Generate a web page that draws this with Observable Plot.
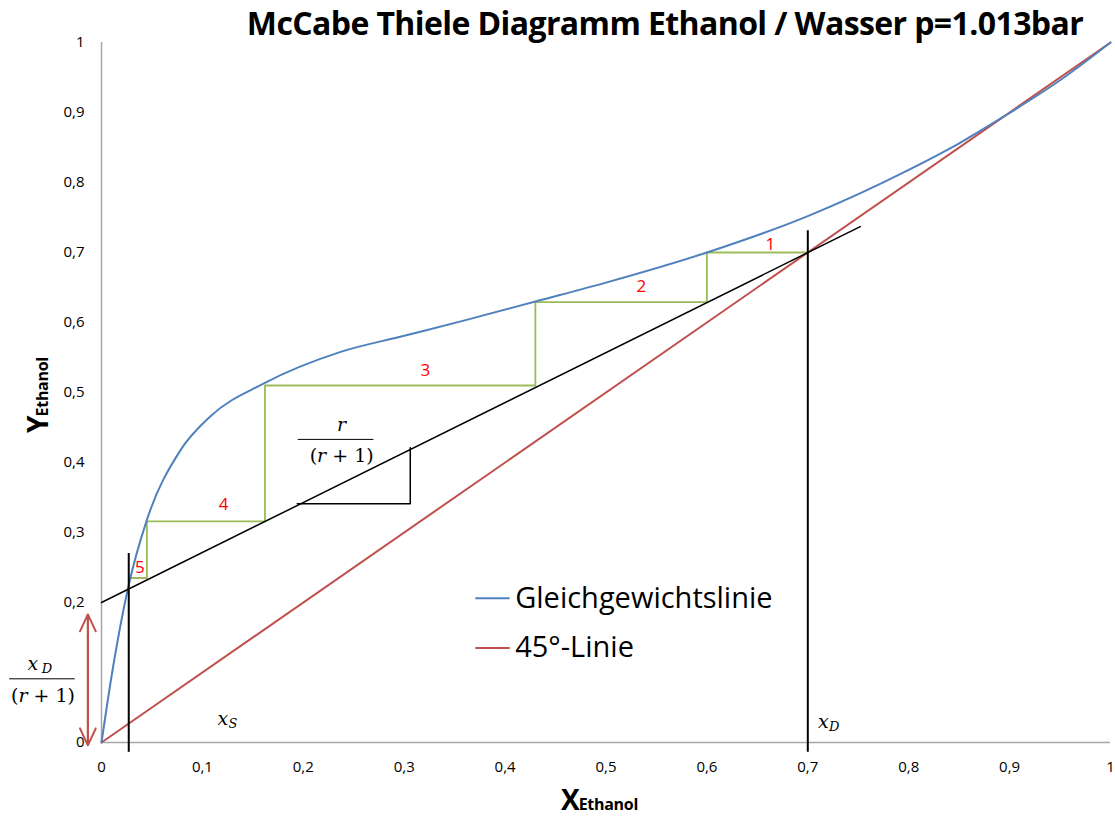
<!DOCTYPE html>
<html><head><meta charset="utf-8">
<script src="https://cdn.jsdelivr.net/npm/d3@7"></script>
<script src="https://cdn.jsdelivr.net/npm/@observablehq/plot@0.6"></script>
<style>
body{margin:0;background:#fff;font-family:"Open Sans",sans-serif;}
#wrap{position:relative;width:1115px;height:817px;}
#title{position:absolute;left:0;width:1330px;top:1px;text-align:center;font-weight:bold;font-size:32px;color:#000;letter-spacing:-0.6px;}
#xlab{position:absolute;left:561px;top:780px;font-weight:bold;font-size:28px;color:#000;letter-spacing:-1px;}
#xlab span,#ylab span{font-size:16px;letter-spacing:-0.3px;}
#ylab{position:absolute;left:-1px;top:395px;transform:translate(0,-50%) rotate(-90deg);transform-origin:center;font-weight:bold;font-size:28px;white-space:nowrap;letter-spacing:-1px;}
</style></head>
<body><div id="wrap"><div id="chart"></div>
<div id="title">McCabe Thiele Diagramm Ethanol / Wasser p=1.013bar</div>
<div id="xlab">X<span>Ethanol</span></div>
<div id="ylab">Y<span>Ethanol</span></div>
</div>
<script>
// Equilibrium line (Gleichgewichtslinie)
const eqX = [0, 0.01, 0.027, 0.045, 0.078, 0.108, 0.161, 0.237, 0.3, 0.36, 0.43, 0.5, 0.6, 0.7, 0.8, 0.85, 0.894, 0.95, 1];
const eqY = [0, 0.095, 0.225, 0.318, 0.417, 0.466, 0.513, 0.558, 0.581, 0.603, 0.63, 0.657, 0.70, 0.752, 0.818, 0.856, 0.894, 0.946, 1];
// 45° line
const diagX = [0, 1];
const diagY = [0, 1];
// Operating line (Verstärkungsgerade)
const opX = [0, 0.752];
const opY = [0.2, 0.737];
// McCabe-Thiele steps (green)
const stepX = [0.7, 0.6, 0.6, 0.43, 0.43, 0.162, 0.162, 0.045, 0.045, 0.027];
const stepY = [0.7, 0.7, 0.629, 0.629, 0.51, 0.51, 0.316, 0.316, 0.235, 0.235];
// Step numbers
const stepLabels = ["1", "2", "3", "4", "5"];
const stepLabelX = [0.663, 0.535, 0.321, 0.121, 0.038];
const stepLabelY = [0.712, 0.652, 0.532, 0.34, 0.25];
// Vertical markers x_S and x_D
const markX = [0.027, 0.7];
const markTop = [0.27, 0.731];
const markBottom = [-0.014, -0.014];
// Slope triangle
const triX = [0.194, 0.306, 0.306];
const triY = [0.341, 0.341, 0.421];
// Ticks
const ticks = [0, 0.1, 0.2, 0.3, 0.4, 0.5, 0.6, 0.7, 0.8, 0.9, 1];
const tickLabels = ["0", "0,1", "0,2", "0,3", "0,4", "0,5", "0,6", "0,7", "0,8", "0,9", "1"];
const yTicks = [0, 0.2, 0.3, 0.4, 0.5, 0.6, 0.7, 0.8, 0.9, 1];
// Legend
const legendNames = ["Gleichgewichtslinie", "45°-Linie"];
const legendColors = ["#4F81BD", "#C0504D"];
const legendY = [0.206, 0.135];

const eq = eqX.map((x, i) => ({x, y: eqY[i]}));
const diag = diagX.map((x, i) => ({x, y: diagY[i]}));
const op = opX.map((x, i) => ({x, y: opY[i]}));
const steps = stepX.map((x, i) => ({x, y: stepY[i]}));
const labs = stepLabels.map((t, i) => ({t, x: stepLabelX[i], y: stepLabelY[i]}));
const marks = markX.map((x, i) => ({x, y1: markBottom[i], y2: markTop[i]}));
const tri = triX.map((x, i) => ({x, y: triY[i]}));
const leg = legendNames.map((t, i) => ({t, c: legendColors[i], y: legendY[i]}));
const fmt = d => tickLabels[ticks.findIndex(t => Math.abs(t - d) < 1e-9)];
const mathFont = "DejaVu Serif";

const plot = Plot.plot({
  width: 1115, height: 817,
  marginLeft: 101, marginRight: 5, marginTop: 42, marginBottom: 75,
  x: {domain: [0, 1]},
  y: {domain: [0, 1]},
  style: {fontFamily: "Open Sans", background: "#fff"},
  marks: [
    Plot.axisX({ticks, tickFormat: fmt, tickSize: 0, tickPadding: 19, fontSize: 15, label: null, color: "#000"}),
    Plot.axisY({ticks: yTicks, tickFormat: fmt, tickSize: 0, tickPadding: 17, fontSize: 15, label: null, color: "#000"}),
    Plot.ruleX([0], {stroke: "#a6a6a6", strokeWidth: 1.5}),
    Plot.ruleY([0], {stroke: "#a6a6a6", strokeWidth: 1.5}),
    Plot.line(steps, {x: "x", y: "y", stroke: "#9BBB59", strokeWidth: 1.8}),
    Plot.line(diag, {x: "x", y: "y", stroke: "#C0504D", strokeWidth: 2}),
    Plot.line(eq, {x: "x", y: "y", stroke: "#4F81BD", strokeWidth: 2, curve: "monotone-x"}),
    Plot.line(op, {x: "x", y: "y", stroke: "#000", strokeWidth: 1.5}),
    Plot.line(tri, {x: "x", y: "y", stroke: "#000", strokeWidth: 1.5}),
    Plot.ruleX(marks, {x: "x", y1: "y1", y2: "y2", stroke: "#000", strokeWidth: 2}),
    Plot.text(labs, {x: "x", y: "y", text: "t", fill: "#ff0000", fontSize: 17}),
    // legend
    Plot.ruleY(leg, {y: "y", x1: 0.371, x2: 0.405, stroke: "c", strokeWidth: 2}),
    Plot.text(leg, {x: 0.41, y: "y", text: "t", textAnchor: "start", fontSize: 29, fill: "#000"}),
    // x_S, x_D labels
    Plot.text([{x: 0.115, y: 0.034}, {x: 0.71, y: 0.029}], {x: "x", y: "y", text: () => "x", fontFamily: mathFont, fontStyle: "italic", fontSize: 19, textAnchor: "start"}),
    Plot.text([{x: 0.115, y: 0.034, t: "S"}, {x: 0.71, y: 0.029, t: "D"}], {x: "x", y: "y", text: "t", fontFamily: mathFont, fontStyle: "italic", fontSize: 13, textAnchor: "start", dx: 11, dy: 5}),
    // r/(r+1) fraction
    Plot.text([{x: 0.238, y: 0.454}], {x: "x", y: "y", text: () => "r", fontFamily: mathFont, fontStyle: "italic", fontSize: 19}),
    Plot.ruleY([{y: 0.433}], {y: "y", x1: 0.195, x2: 0.27, stroke: "#000", strokeWidth: 1}),
    Plot.text([{x: 0.238, y: 0.41}], {x: "x", y: "y", text: () => "(r + 1)", fontFamily: mathFont, fontSize: 19}),
    // x_D/(r+1) fraction (left margin)
    Plot.text([{x: -0.062, y: 0.112}], {x: "x", y: "y", text: () => "x", fontFamily: mathFont, fontStyle: "italic", fontSize: 19, dx: -6}),
    Plot.text([{x: -0.062, y: 0.112}], {x: "x", y: "y", text: () => "D", fontFamily: mathFont, fontStyle: "italic", fontSize: 13, dx: 8, dy: 5}),
    Plot.ruleY([{y: 0.091}], {y: "y", x1: -0.091, x2: -0.026, stroke: "#000", strokeWidth: 1}),
    Plot.text([{x: -0.058, y: 0.066}], {x: "x", y: "y", text: () => "(r + 1)", fontFamily: mathFont, fontSize: 19}),
    // red double arrow
    Plot.ruleX([{x: -0.0135, y1: 0.183, y2: -0.004}], {x: "x", y1: "y1", y2: "y2", stroke: "#C0504D", strokeWidth: 2}),
    Plot.arrow([{x: -0.0135, y1: 0.09, y2: 0.183}, {x: -0.0135, y1: 0.09, y2: -0.004}], {x1: "x", x2: "x", y1: "y1", y2: "y2", stroke: "#C0504D", strokeWidth: 2, headLength: 14, headAngle: 50})
  ]
});
plot.style.overflow = "visible";
// italic r inside "(r + 1)"
d3.select(plot).selectAll("text").each(function () {
  if (this.textContent === "(r + 1)") {
    this.textContent = "";
    const t = d3.select(this);
    t.append("tspan").text("(");
    t.append("tspan").attr("font-style", "italic").text("r");
    t.append("tspan").text(" + 1)");
  }
});
document.getElementById("chart").appendChild(plot);
</script>
</body></html>
